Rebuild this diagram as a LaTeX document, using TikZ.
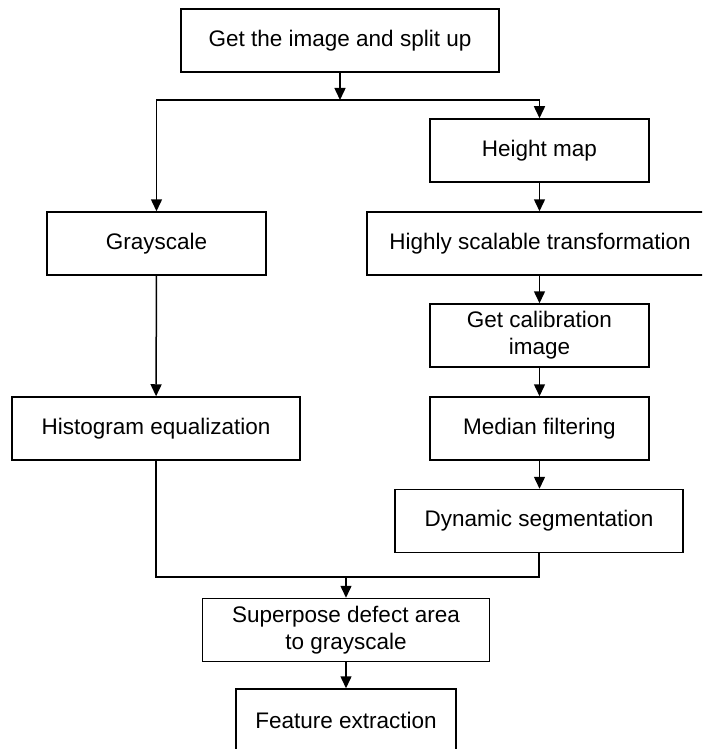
\documentclass[tikz,border=0pt]{standalone}
\usepackage{fontspec}
\setmainfont{Liberation Sans}
\usetikzlibrary{arrows.meta}

\tikzset{
  procbox/.style = {draw, line width=1.5pt, rectangle, align=center,
                    minimum height=63pt, inner sep=2pt,
                    font=\fontsize{22.5}{27}\selectfont},
  flowline/.style = {line width=1.5pt},
  flowarrow/.style = {flowline, -{Triangle[length=12pt,width=11pt]}}
}

\begin{document}
\begin{tikzpicture}[x=1pt,y=-1pt]
          \useasboundingbox (0,0) rectangle (702,749);
          \clip (0,0) rectangle (702,749);

          % left branch and top
          \node[procbox, minimum width=318pt] (split) at (340,40.5) {Get the image and split up};
          \node[procbox, minimum width=219pt] (gray) at (156.5,243.5) {Grayscale};
          \node[procbox, minimum width=288pt] (hist) at (156,428.5) {Histogram equalization};

          % right branch
          \node[procbox, minimum width=219pt] (height) at (539.5,150.5) {Height map};
          \node[procbox, minimum width=346pt] (hst) at (540,243.5) {Highly scalable transformation};
          \node[procbox, minimum width=219pt] (calib) at (539.5,335.5) {Get calibration\\image};
          \node[procbox, minimum width=219pt] (median) at (539.5,428.5) {Median filtering};
          \node[procbox, minimum width=288pt] (dyn) at (539,521) {Dynamic segmentation};

          % bottom
          \node[procbox, minimum width=287pt] (sup) at (346,630) {Superpose defect area\\to grayscale};
          \node[procbox, minimum width=220pt] (feat) at (346,720.5) {Feature extraction};

          \coordinate (fork) at (340,100);
          \coordinate (merge) at (346,577);

          % split up
          \draw[flowarrow] (split.south) -- (fork);
          \draw[flowarrow] (fork) -| (gray.north);
          \draw[flowarrow] (fork) -| (height.north);

          \draw[flowarrow] (gray) -- (hist);
          \draw[flowarrow] (height) -- (hst.north -| height);
          \draw[flowarrow] (hst.south -| calib) -- (calib);
          \draw[flowarrow] (calib) -- (median);
          \draw[flowarrow] (median.south) -- (dyn.north -| median);

          % join the branches
          \draw[flowline] (hist.south) |- (merge) -| (dyn.south);
          \draw[flowarrow] (merge) -- (sup.north);
          \draw[flowarrow] (sup) -- (feat);
        \end{tikzpicture}
\end{document}
